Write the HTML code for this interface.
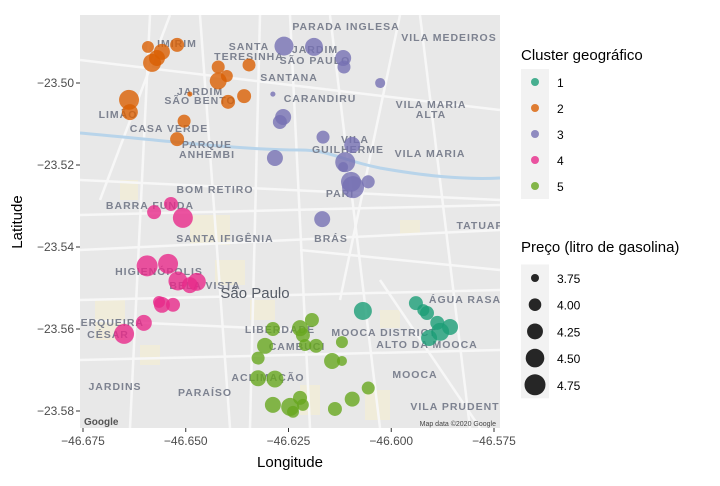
<!DOCTYPE html>
<html><head><meta charset="utf-8"><style>
body{margin:0;background:#fff;width:720px;height:486px;overflow:hidden;font-family:"Liberation Sans",sans-serif}
svg{display:block}
</style></head><body>
<svg id="chart" width="720" height="486" xmlns="http://www.w3.org/2000/svg"><defs><clipPath id="pc"><rect x="80" y="15" width="420" height="413"/></clipPath></defs></svg>
<script>
const clusterNames=["1","2","3","4","5"];
const clusterColors=["#1b9e77","#d95f02","#7570b3","#e7298a","#66a61e"];
const lons=[-46.6592,-46.6521,-46.6558,-46.6582,-46.6570,-46.6421,-46.6346,-46.6400,-46.6421,-46.6490,-46.6397,-46.6358,-46.6638,-46.6636,-46.6504,-46.6521,
-46.6261,-46.6188,-46.6117,-46.6115,-46.6027,-46.6288,-46.6263,-46.6271,-46.6166,-46.6095,-46.6283,-46.6112,-46.6117,-46.6098,-46.6093,-46.6056,-46.6168,
-46.6577,-46.6536,-46.6507,-46.6594,-46.6543,-46.6519,-46.6473,-46.6490,-46.6558,-46.6531,-46.6565,-46.6602,-46.6650,
-46.6069,-46.5940,-46.5913,-46.5922,-46.5888,-46.5857,-46.5881,-46.5908,
-46.6193,-46.6288,-46.6222,-46.6215,-46.6307,-46.6183,-46.6210,-46.6120,-46.6324,-46.6144,-46.6120,-46.6324,-46.6283,-46.6056,-46.6095,-46.6222,-46.6288,-46.6246,-46.6239,-46.6215,-46.6137];
const lats=[-23.4912,-23.4907,-23.4924,-23.4951,-23.4939,-23.4961,-23.4956,-23.4983,-23.4995,-23.5027,-23.5046,-23.5032,-23.5041,-23.5071,-23.5093,-23.5137,
-23.4910,-23.4912,-23.4939,-23.4961,-23.5000,-23.5027,-23.5083,-23.5095,-23.5132,-23.5151,-23.5183,-23.5193,-23.5205,-23.5241,-23.5254,-23.5241,-23.5332,
-23.5315,-23.5295,-23.5329,-23.5446,-23.5441,-23.5483,-23.5485,-23.5493,-23.5541,-23.5541,-23.5534,-23.5585,-23.5612,
-23.5556,-23.5537,-23.5561,-23.5554,-23.5585,-23.5595,-23.5607,-23.5622,
-23.5578,-23.5600,-23.5598,-23.5615,-23.5641,-23.5641,-23.5639,-23.5632,-23.5671,-23.5678,-23.5678,-23.5720,-23.5722,-23.5744,-23.5771,-23.5768,-23.5785,-23.5790,-23.5802,-23.5785,-23.5795];
const prices=[3.96,4.10,4.26,4.44,4.26,4.03,4.03,3.96,4.34,3.65,4.10,4.10,4.64,4.26,4.03,4.10,
4.54,4.44,4.26,4.03,3.85,3.65,4.26,4.10,4.03,4.26,4.26,4.64,3.85,4.64,4.87,4.03,4.26,
4.10,4.10,4.64,4.75,4.64,4.54,4.44,4.26,4.26,4.10,3.96,4.26,4.64,
4.44,4.10,4.10,3.96,4.10,4.26,4.44,4.26,
4.10,4.10,4.26,4.10,4.26,4.10,3.96,3.96,4.03,4.26,3.85,4.26,4.34,4.03,4.18,4.10,4.26,4.44,3.96,3.96,4.10];
const clusters=[2,2,2,2,2,2,2,2,2,2,2,2,2,2,2,2,
3,3,3,3,3,3,3,3,3,3,3,3,3,3,3,3,3,
4,4,4,4,4,4,4,4,4,4,4,4,4,
1,1,1,1,1,1,1,1,
5,5,5,5,5,5,5,5,5,5,5,5,5,5,5,5,5,5,5,5,5];
const xTicks=[-46.675,-46.650,-46.625,-46.600,-46.575];
const yTicks=[-23.50,-23.52,-23.54,-23.56,-23.58];
const sizeBreaks=[3.75,4.00,4.25,4.50,4.75];

const NS="http://www.w3.org/2000/svg";
const svg=document.getElementById('chart');
const P={x0:80,y0:15,x1:500,y1:428};
const xs=v=>83+(v+46.675)/0.025*102.75;
const ys=v=>83-(v+23.50)/0.02*82;
const rs=p=>Math.sqrt(Math.max(4,16+94*(p-3.75)));
function el(t,a,parent){const e=document.createElementNS(NS,t);for(const k in a)e.setAttribute(k,a[k]);(parent||svg).appendChild(e);return e;}

// map background
const map=el('g',{'clip-path':'url(#pc)'});


el('rect',{x:P.x0,y:P.y0,width:P.x1-P.x0,height:P.y1-P.y0,fill:'#e8e8e8'},map);
[[190,215,40,30],[215,260,30,25],[250,300,25,20],[95,300,30,40],[300,385,20,30],[365,390,25,30],[380,310,20,18],[120,180,18,20],[400,220,20,15],[140,345,20,20]].forEach(b=>el('rect',{x:b[0],y:b[1],width:b[2],height:b[3],fill:'#f1ecd6',opacity:0.8},map));
[[80,250,500,230],[80,300,500,290],[200,15,230,428],[330,15,380,428],[80,180,500,200],[150,15,130,428],[420,15,470,428],[80,360,500,350],[260,15,250,428],[80,60,500,110],[300,250,500,270],[380,280,480,428],[80,215,500,205],[80,320,300,330],[170,15,100,200],[290,15,310,428],[400,15,340,300]].forEach(l=>el('line',{x1:l[0],y1:l[1],x2:l[2],y2:l[3],stroke:'#f7f7f7','stroke-width':2.5},map));
el('path',{d:'M80,133 C160,140 240,150 300,150 C330,150 340,160 380,168 C420,175 460,180 500,178',stroke:'#b8d4ea','stroke-width':3,fill:'none'},map);
const labels=[["PARADA INGLESA",346,30],["VILA MEDEIROS",449,41],["IMIRIM",177,47],["SANTA",249,50],["TERESINHA",249,60],["JARDIM",315,53],["SÃO PAULO",315,64],["SANTANA",289,81],["CARANDIRU",320,102],["VILA MARIA",431,108],["ALTA",431,118],["LIMÃO",118,118],["JARDIM",200,95],["SÃO BENTO",200,104],["CASA VERDE",169,132],["VILA",355,143],["GUILHERME",348,153],["VILA MARIA",430,157],["PARQUE",207,148],["ANHEMBI",207,158],["BOM RETIRO",215,193],["PARI",340,197],["BARRA FUNDA",150,209],["SANTA IFIGÊNIA",225,242],["BRÁS",331,242],["TATUAP",480,229],["HIGIENÓPOLIS",159,275],["BELA VISTA",205,289],["ÁGUA RASA",465,303],["MOOCA DISTRICT",384,336],["LIBERDADE",280,333],["CAMBUCI",297,350],["ALTO DA MOOCA",427,348],["CERQUEIRA",108,326],["CÉSAR",108,338],["ACLIMAÇÃO",268,381],["MOOCA",415,378],["JARDINS",115,390],["PARAÍSO",205,396],["VILA PRUDENT",455,410]];
labels.forEach(l=>{const t=el('text',{x:l[1],y:l[2],'text-anchor':'middle','font-size':10.5,'font-weight':'bold',fill:'#7d8290','letter-spacing':'1'},map);t.textContent=l[0];});
const sp=el('text',{x:255,y:298,'text-anchor':'middle','font-size':15,fill:'#555b66'},map);sp.textContent='São Paulo';
const g1=el('text',{x:84,y:425,'font-size':10,'font-weight':'bold',fill:'#555'},map);g1.textContent='Google';
const g2=el('text',{x:496,y:426,'text-anchor':'end','font-size':7,fill:'#444'},map);g2.textContent='Map data ©2020 Google';

// axes ticks
xTicks.forEach(v=>{
  el('line',{x1:xs(v),x2:xs(v),y1:P.y1,y2:P.y1+4,stroke:'#333'});
  const t=el('text',{x:xs(v),y:P.y1+17,'text-anchor':'middle','font-size':12,fill:'#4d4d4d'});
  
  
  t.textContent=v.toFixed(3).replace('-','−');
});
yTicks.forEach(v=>{
  el('line',{x1:P.x0-4,x2:P.x0,y1:ys(v),y2:ys(v),stroke:'#333'});
  const t=el('text',{x:P.x0-6,y:ys(v)+4,'text-anchor':'end','font-size':12,fill:'#4d4d4d'});
  
  
  t.textContent=v.toFixed(2).replace('-','−');
});
const xt=el('text',{x:290,y:467,'text-anchor':'middle','font-size':15,fill:'#000'});


xt.textContent='Longitude';
const yt=el('text',{x:0,y:0,'text-anchor':'middle','font-size':15,fill:'#000',transform:'translate(22,222) rotate(-90)'});


yt.textContent='Latitude';

// points
const pg=el('g',{});
lons.forEach((lo,i)=>{
  const c=el('circle',{cx:xs(lo),cy:ys(lats[i]),r:rs(prices[i]),fill:clusterColors[clusters[i]-1],'fill-opacity':0.8},pg);
  
  
});

// legends
const lt=el('text',{x:521,y:60,'font-size':15,fill:'#000'});


lt.textContent='Cluster geográfico';
clusterNames.forEach((n,i)=>{
  const y=82+i*26;
  el('rect',{x:521,y:y-13,width:28,height:26,fill:'#f2f2f2'});
  const c=el('circle',{cx:535,cy:y,r:4,fill:clusterColors[i],'fill-opacity':0.8});
  
  
  const t=el('text',{x:557,y:y+5,'font-size':12,fill:'#000'});t.textContent=n;
});
const st=el('text',{x:521,y:252,'font-size':15,fill:'#000'});


st.textContent='Preço (litro de gasolina)';
sizeBreaks.forEach((p,i)=>{
  const y=278+i*26.7;
  el('rect',{x:521,y:y-13.5,width:28,height:27,fill:'#f2f2f2'});
  const c=el('circle',{cx:535,cy:y,r:rs(p),fill:'#262626'});
  
  
  const t=el('text',{x:557,y:y+5,'font-size':12,fill:'#000'});t.textContent=p.toFixed(2);
});
</script>
</body></html>
